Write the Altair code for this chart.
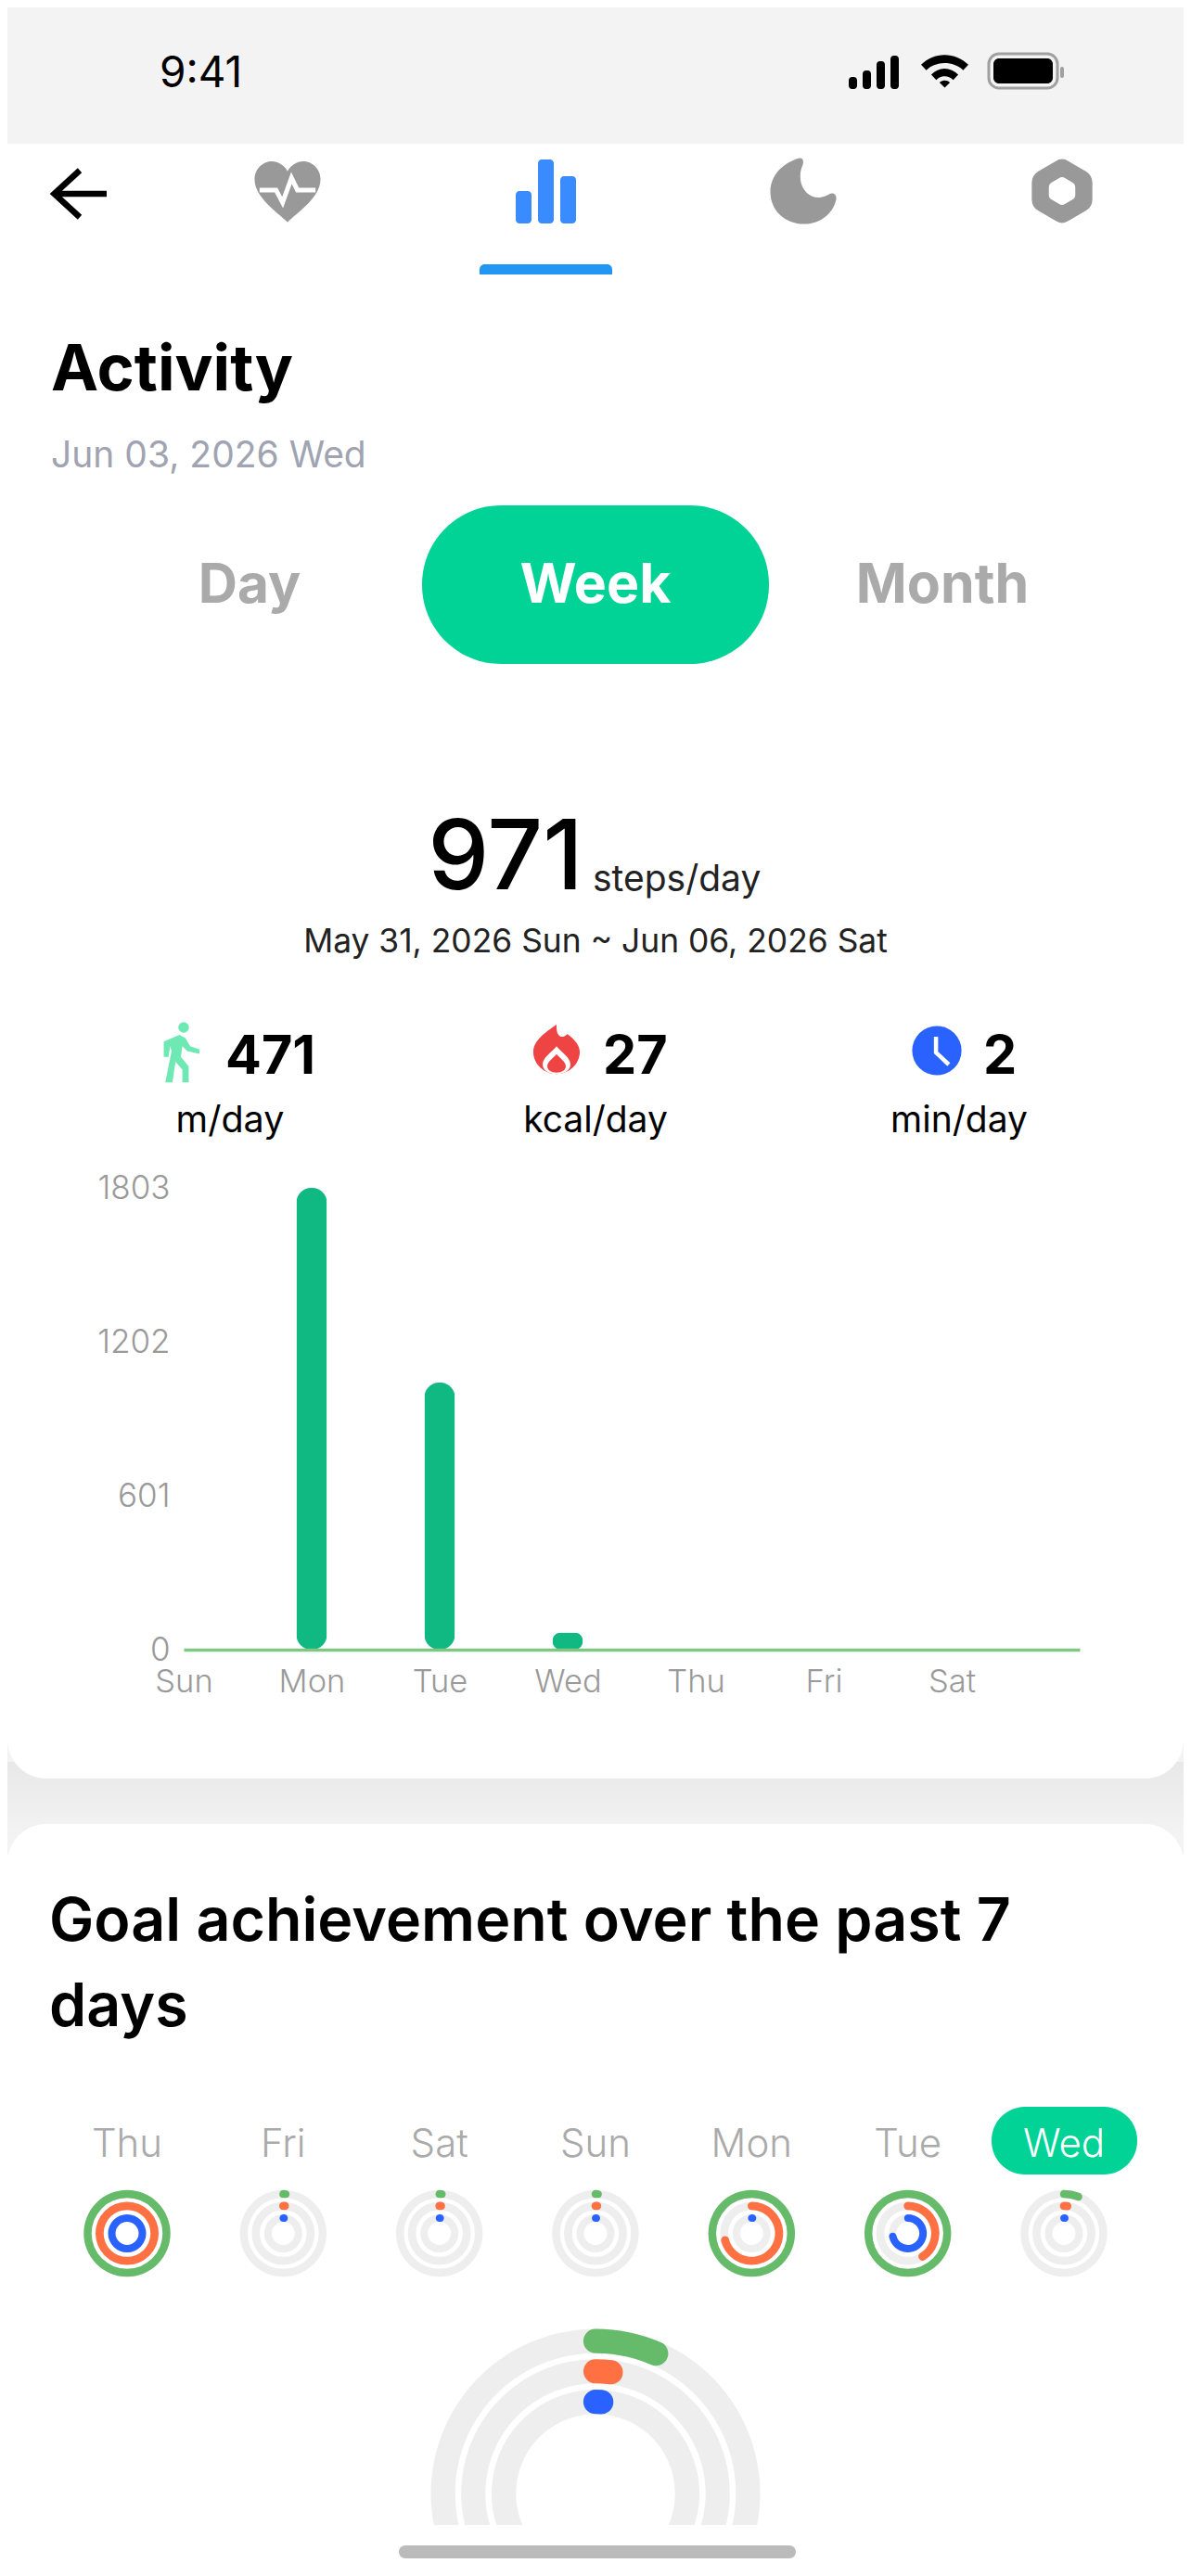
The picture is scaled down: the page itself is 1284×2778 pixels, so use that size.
import math
import altair as alt
import pandas as pd

# ---- data ----
week_days = ["Sun", "Mon", "Tue", "Wed", "Thu", "Fri", "Sat"]
week_steps = [0, 1803, 1043, 67, 0, 0, 0]
y_ticks = [0, 601, 1202, 1803]

ring_days = ["Thu", "Fri", "Sat", "Sun", "Mon", "Tue", "Wed"]
ring_green = [1, 0.01, 0.01, 0.01, 1, 1, 0.06]
ring_orange = [1, 0.01, 0.01, 0.01, 0.71, 0.41, 0.02]
ring_blue = [1, 0.01, 0.01, 0.01, 0.01, 0.72, 0.01]
today_green, today_orange, today_blue = 0.065, 0.02, 0.01
selected_day = "Wed"

FONT = "Inter"
W, H = 1268, 2755
R_EDGE = 8 + W
one = alt.Chart(pd.DataFrame({"a": [0]}))
layers = []


def X(v):
    return alt.value(v - 8)


def Y(v):
    return alt.value(v - 8)


def rect(x0, y0, x1, y1, color, **kw):
    layers.append(one.mark_rect(color=color, **kw).encode(x=X(x0), x2=X(x1), y=Y(y0), y2=Y(y1)))


def text(s, x, y, size, color="#000000", weight=400, align="left"):
    layers.append(one.mark_text(text=s, font=FONT, fontSize=size, fontWeight=weight, color=color,
                                align=align, baseline="alphabetic").encode(x=X(x), y=Y(y)))


def icon(path, cx, cy, d, color):
    layers.append(one.mark_point(shape=path, size=d * d, filled=True, color=color, opacity=1,
                                 strokeWidth=0).encode(x=X(cx), y=Y(cy)))


def stroke_icon(path, cx, cy, d, color, sw, cap="round"):
    layers.append(one.mark_point(shape=path, size=d * d, filled=False, color=color, opacity=1,
                                 strokeWidth=sw, strokeCap=cap, strokeJoin="miter").encode(x=X(cx), y=Y(cy)))


def dot(cx, cy, r, color):
    layers.append(one.mark_circle(size=math.pi * r * r, color=color, opacity=1).encode(x=X(cx), y=Y(cy)))


# ---- page chrome ----
rect(8, 8, R_EDGE, 155, "#f3f3f3")
rect(8, 1880, R_EDGE, 2000, "#f3f3f3")
layers.append(one.mark_rect(color=alt.Gradient(gradient="linear", x1=0, x2=0, y1=0, y2=1,
                                               stops=[alt.GradientStop(offset=0, color="#e8e8e8"),
                                                      alt.GradientStop(offset=1, color="#f4f4f4")]))
              .encode(x=X(8), x2=X(R_EDGE), y=Y(1900), y2=Y(1985)))
rect(8, 155, R_EDGE, 1918, "#ffffff", cornerRadiusBottomLeft=42, cornerRadiusBottomRight=42)
rect(8, 1967, R_EDGE, 2763, "#ffffff", cornerRadiusTopLeft=42, cornerRadiusTopRight=42)

# status bar
text("9:41", 172, 94, 46, "#000000", 400)
for left, top in zip([915, 930, 945, 960], [83, 76, 66, 60]):
    rect(left, top, left + 9, 96, "#000000", cornerRadius=3.5)
icon("M-1,-0.28 C-0.45,-0.84 0.45,-0.84 1,-0.28 L0.78,-0.05 C0.35,-0.45 -0.35,-0.45 -0.78,-0.05 Z "
     "M-0.57,0.14 C-0.25,-0.2 0.25,-0.2 0.57,0.14 L0.36,0.36 C0.15,0.15 -0.15,0.15 -0.36,0.36 Z "
     "M-0.22,0.47 C-0.1,0.35 0.1,0.35 0.22,0.47 L0,0.69 Z", 1018.5, 77, 51, "#000000")
rect(1066, 58, 1140, 95, "#f3f3f3", cornerRadius=11, stroke="#a0a0a0", strokeWidth=3)
rect(1071, 63, 1135, 90, "#000000", cornerRadius=6)
rect(1143, 72, 1147, 84, "#a0a0a0", cornerRadius=2)

# nav row
stroke_icon("M1,0 L-0.95,0 M0,-0.87 L-0.95,0 L0,0.87", 86, 209, 58, "#000000", 6.5, "butt")
icon("M0,0.95 C-0.3,0.65 -1,0.2 -1,-0.35 C-1,-0.7 -0.72,-0.9 -0.48,-0.9 C-0.28,-0.9 -0.1,-0.78 0,-0.6 "
     "C0.1,-0.78 0.28,-0.9 0.48,-0.9 C0.72,-0.9 1,-0.7 1,-0.35 C1,0.2 0.3,0.65 0,0.95 Z", 310, 206, 71, "#999999")
stroke_icon("M-0.85,-0.03 L-0.35,-0.03 L-0.15,0.35 L0.12,-0.4 L0.3,-0.03 L0.85,-0.03", 310, 206, 71, "#ffffff", 5, "butt")
rect(556, 206, 573, 241, "#3a8bfd", cornerRadius=4)
rect(580, 172, 597, 241, "#3a8bfd", cornerRadius=4)
rect(604, 190, 621, 241, "#3a8bfd", cornerRadius=4)
rect(517, 285, 660, 296, "#2196f3", cornerRadiusTopLeft=8, cornerRadiusTopRight=8)
icon("M-0.12,-1 C-0.65,-0.85 -1,-0.45 -1,0.02 C-1,0.6 -0.55,1 0.02,1 C0.5,1 0.9,0.7 1,0.25 "
     "C1.02,0.1 0.9,0.03 0.78,0.1 C0.55,0.25 0.28,0.22 0.1,0.05 C-0.1,-0.15 -0.15,-0.5 -0.02,-0.78 "
     "C0.03,-0.92 -0.02,-1.02 -0.12,-1 Z", 866, 206, 71, "#999999")
HEX = ("M-0.2,-0.9 Q0,-1.04 0.2,-0.9 L0.72,-0.6 Q0.92,-0.48 0.92,-0.25 L0.92,0.25 Q0.92,0.48 0.72,0.6 "
       "L0.2,0.9 Q0,1.04 -0.2,0.9 L-0.72,0.6 Q-0.92,0.48 -0.92,0.25 L-0.92,-0.25 Q-0.92,-0.48 -0.72,-0.6 Z")
icon(HEX, 1145, 206, 71, "#999999")
icon(HEX, 1145, 206, 31, "#ffffff")

# heading and tabs
text("Activity", 55, 421, 68.5, "#000000", 700)
text("Jun 03, 2026 Wed", 55, 504, 39, "#a0a3b1", 400)
rect(455, 545, 829, 716, "#00d395", cornerRadius=85)
text("Day", 269, 650, 58.5, "#aaaaaa", 700, "center")
text("Week", 642, 650, 59, "#ffffff", 700, "center")
text("Month", 1016, 650, 59, "#aaaaaa", 700, "center")

# summary
text("971", 545, 959, 105, "#000000", 500, "center")
text("steps/day", 639, 961, 39, "#222222", 400)
text("May 31, 2026 Sun ~ Jun 06, 2026 Sat", 642, 1027, 35.4, "#222222", 400, "center")

dot(198, 1108, 6.5, "#6ee9b3")
icon("M-0.57,-0.36 L-0.05,-0.59 L0.15,-0.48 L0.31,-0.21 L0.62,-0.10 L0.62,0.05 L0.21,-0.05 L0.05,-0.21 "
     "L0,0.15 L0.26,0.46 L0.26,1 L0.05,1 L0.05,0.57 L-0.18,0.31 L-0.28,1 L-0.52,1 L-0.31,-0.05 L-0.36,-0.21 "
     "L-0.41,0.15 L-0.57,0.15 Z", 195, 1135, 64.7, "#6ee9b3")
text("471", 243, 1158, 57.5, "#000000", 700)
text("m/day", 248, 1221, 39.5, "#000000", 400, "center")

icon("M0,-1 C0,-0.85 0,-0.7 0.06,-0.62 C0.14,-0.5 0.25,-0.45 0.44,-0.62 C0.75,-0.4 0.94,-0.15 0.94,0.1 "
     "C0.94,0.6 0.5,1 0,1 C-0.5,1 -0.94,0.6 -0.94,0.1 C-0.94,-0.35 -0.45,-0.7 0,-1 Z", 600, 1131.7, 53.3, "#ef4444")
TEAR = "M0,-1 C0.3,-0.6 1,-0.2 1,0.3 C1,0.7 0.6,1 0,1 C-0.6,1 -1,0.7 -1,0.3 C-1,-0.2 -0.3,-0.6 0,-1 Z"
icon(TEAR, 600, 1143.3, 30, "#ffffff")
icon(TEAR, 600, 1146.7, 20, "#ef4444")
text("27", 650, 1158, 57.5, "#000000", 700)
text("kcal/day", 642, 1221, 39, "#000000", 400, "center")

dot(1010, 1133, 30, "#2962ff")
stroke_icon("M-0.03,-0.5 L-0.03,0.07 L0.43,0.5", 1010, 1133, 60, "#ffffff", 4.5, "butt")
text("2", 1060, 1158, 57.5, "#000000", 700)
text("min/day", 1034, 1221, 39, "#000000", 400, "center")

# ---- weekly bar chart ----
bars = pd.DataFrame({"day": week_days, "steps": week_steps})
layers.append(
    alt.Chart(bars).mark_bar(width=33, cornerRadius=16, color="#10b981").encode(
        x=alt.X("day:N", title=None,
                scale=alt.Scale(type="point", domain=week_days + [" "], range=[198 - 8, 1164 - 8], padding=0),
                axis=alt.Axis(values=week_days, offset=(1779 - 8) - H, domainColor="#81c784", domainWidth=3.5,
                              ticks=False, grid=False, labelAngle=0, labelFont=FONT, labelFontSize=34.5,
                              labelFontWeight=300, labelColor="#9a9a9a", labelPadding=18, labelOverlap=False,
                              zindex=1)),
        y=alt.Y("steps:Q", title=None,
                scale=alt.Scale(domain=[0, 1803], range=[1779 - 8, 1281 - 8], nice=False),
                axis=alt.Axis(values=y_ticks, format="d", offset=-(183 - 8), domain=False, ticks=False, grid=False,
                              labelFont=FONT, labelFontSize=35, labelFontWeight=300, labelColor="#9a9a9a",
                              labelPadding=0, labelOverlap=False, zindex=1)),
    )
)

# ---- goal section ----
text("Goal achievement over the past 7", 53, 2093, 64.5, "#000000", 600)
text("days", 53, 2185, 64.5, "#000000", 600)
rect(1069, 2272, 1226, 2345, "#00d395", cornerRadius=36)

day_x = alt.X("day:N", axis=None, title=None,
              scale=alt.Scale(type="point", domain=ring_days, range=[137 - 8, 1147 - 8], padding=0))
labels = pd.DataFrame({"day": ring_days})
layers.append(alt.Chart(labels).mark_text(font=FONT, fontSize=42, fontWeight=300, baseline="alphabetic").encode(
    x=day_x, y=Y(2326), text="day:N",
    color=alt.condition(alt.datum.day == selected_day, alt.value("#ffffff"), alt.value("#aaaaaa"))))

theta_scale = alt.Scale(domain=[0, 1], range=[0, 2 * math.pi], nice=False)
SMALL = [(46.7, 38.3, ring_green, "#66bb6a"), (34, 25.3, ring_orange, "#ff7043"), (20.5, 12.5, ring_blue, "#2962ff")]
# the large ring runs off the bottom of the card: track is only drawn down to just under its cut line
BIG = [(177.5, 151.3, today_green, "#66bb6a", 105), (144.8, 118.7, today_orange, "#ff7043", 110),
       (112, 85.7, today_blue, "#2962ff", 118)]


def span(progress, r1, r0):
    cap = ((r1 - r0) / 2) / ((r1 + r0) / 2) / (2 * math.pi)
    if progress >= 1:
        return 0, 1
    return -cap, progress + cap


for r1, r0, vals, col in SMALL:
    tr = pd.DataFrame({"day": ring_days, "t0": [0] * 7, "t1": [1] * 7})
    layers.append(alt.Chart(tr).mark_arc(color="#eeeeee").encode(
        x=day_x, y=Y(2408.5), theta=alt.Theta("t0:Q", scale=theta_scale, stack=None), theta2="t1:Q",
        radius=alt.value(r1), radius2=alt.value(r0)))
    spans = [span(v, r1, r0) for v in vals]
    fg = pd.DataFrame({"day": ring_days, "t0": [s[0] for s in spans], "t1": [s[1] for s in spans]})
    layers.append(alt.Chart(fg).mark_arc(color=col, cornerRadius=(r1 - r0) / 2).encode(
        x=day_x, y=Y(2408.5), theta=alt.Theta("t0:Q", scale=theta_scale, stack=None), theta2="t1:Q",
        radius=alt.value(r1), radius2=alt.value(r0)))

for r1, r0, val, col, deg in BIG:
    tr = pd.DataFrame({"t0": [-deg / 360], "t1": [deg / 360]})
    layers.append(alt.Chart(tr).mark_arc(color="#eeeeee").encode(
        x=X(642), y=Y(2689), theta=alt.Theta("t0:Q", scale=theta_scale, stack=None), theta2="t1:Q",
        radius=alt.value(r1), radius2=alt.value(r0)))
    s = span(val, r1, r0)
    fg = pd.DataFrame({"t0": [s[0]], "t1": [s[1]]})
    layers.append(alt.Chart(fg).mark_arc(color=col, cornerRadius=(r1 - r0) / 2).encode(
        x=X(642), y=Y(2689), theta=alt.Theta("t0:Q", scale=theta_scale, stack=None), theta2="t1:Q",
        radius=alt.value(r1), radius2=alt.value(r0)))

rect(8, 2723, R_EDGE, 2763, "#ffffff")
rect(430, 2745, 858, 2759, "#bbbbbb", cornerRadius=7)

chart = (
    alt.layer(*layers)
    .resolve_scale(x="independent", y="independent")
    .properties(width=W, height=H, padding=0, autosize=alt.AutoSizeParams(type="none"), background="#ffffff")
    .configure_view(stroke=None)
)
chart.save("out.html", embed_options={"renderer": "svg", "actions": False})
